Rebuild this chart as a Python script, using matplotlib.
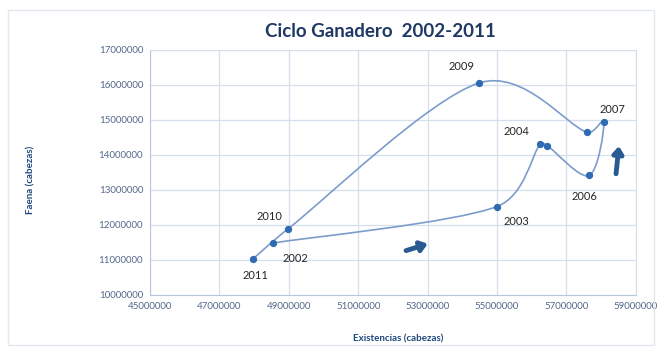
import numpy as np
import matplotlib
matplotlib.use("Agg")
from matplotlib import pyplot as plt
from matplotlib.path import Path
from matplotlib.patches import PathPatch

# ciclo ganadero: existencias (x) vs faena (y), ordered by year
years = [2002, 2003, 2004, 2005, 2006, 2007, 2008, 2009, 2010, 2011]
existencias = [48540000, 54990000, 56240000, 56450000, 57650000,
               58080000, 57600000, 54470000, 48970000, 47960000]
faena = [11480000, 12520000, 14310000, 14260000, 13410000,
         14930000, 14640000, 16050000, 11880000, 11020000]
labeled_years = [2002, 2003, 2004, 2006, 2007, 2009, 2010, 2011]

plt.rcParams['font.family'] = ['Lato', 'DejaVu Sans']

line_color = '#7C9CCB'
marker_color = '#2F6BB3'
text_blue = '#1F497D'
grid_color = '#D6DFEC'


def smooth_path(xs, ys):
    # excel-like smoothed scatter line (catmull-rom bezier segments,
    # control arms clamped so close points don't make loops)
    pts = np.column_stack([xs, ys]).astype(float)
    n = len(pts)
    verts = [pts[0]]
    codes = [Path.MOVETO]
    for i in range(n - 1):
        p0 = pts[i - 1] if i > 0 else pts[i]
        p1 = pts[i]
        p2 = pts[i + 1]
        p3 = pts[i + 2] if i + 2 < n else pts[i + 1]
        seg = np.hypot(*(p2 - p1))
        a1 = (p2 - p0) / 6
        a2 = (p3 - p1) / 6
        lim = 0.4 * seg
        if np.hypot(*a1) > lim:
            a1 = a1 * lim / np.hypot(*a1)
        if np.hypot(*a2) > lim:
            a2 = a2 * lim / np.hypot(*a2)
        verts += [p1 + a1, p2 - a2, p2]
        codes += [Path.CURVE4] * 3
    return Path(verts, codes)


fig = plt.figure(figsize=(6.61, 3.51), dpi=100)
ax = fig.add_axes([0.227, 0.160, 0.735, 0.698])

# outer chart border
fig.patches.append(plt.Rectangle((0.012, 0.017), 0.978, 0.955, transform=fig.transFigure,
                                 fill=False, edgecolor='#E3E8EF', linewidth=1))

ax.add_patch(PathPatch(smooth_path(existencias, faena), facecolor='none',
                       edgecolor=line_color, linewidth=1.2, zorder=3))
ax.scatter(existencias, faena, s=18, color=marker_color, zorder=4)

label_offsets = {2002: (16, -11), 2003: (14, -11), 2004: (-17, 9), 2006: (-3, -15),
                 2007: (6, 9), 2009: (-12, 12), 2010: (-13, 9), 2011: (2, -12)}
for yr, x, y in zip(years, existencias, faena):
    if yr in labeled_years:
        dx, dy = label_offsets[yr]
        ax.annotate(str(yr), (x, y), xytext=(dx, dy), textcoords='offset points',
                    ha='center', va='center', fontsize=8, color='#262626')

# direction arrows
ax.annotate('', xy=(53080000, 11480000), xytext=(52300000, 11240000),
            arrowprops=dict(arrowstyle='-|>,head_width=0.3,head_length=0.4',
                            color='#2A5A92', linewidth=3.5))
ax.annotate('', xy=(58520000, 14330000), xytext=(58420000, 13380000),
            arrowprops=dict(arrowstyle='-|>,head_width=0.3,head_length=0.4',
                            color='#2A5A92', linewidth=3.5))

ax.set_xlim(45000000, 59000000)
ax.set_ylim(10000000, 17000000)
ax.set_xticks(np.arange(45000000, 59000001, 2000000))
ax.set_yticks(np.arange(10000000, 17000001, 1000000))
ax.xaxis.set_major_formatter(matplotlib.ticker.FuncFormatter(lambda v, p: f'{int(v)}'))
ax.yaxis.set_major_formatter(matplotlib.ticker.FuncFormatter(lambda v, p: f'{int(v)}'))
ax.tick_params(length=0, labelsize=7, labelcolor='#55688A', pad=5)
ax.grid(True, color=grid_color, linewidth=0.9)
ax.set_axisbelow(True)
for side, sp in ax.spines.items():
    sp.set_color('#B8C7DD' if side in ('left', 'bottom') else grid_color)

ax.set_xlabel('Existencias (cabezas)', fontsize=7, fontweight='bold', color=text_blue)
ax.xaxis.set_label_coords(0.51, -0.16)
ax.set_ylabel('Faena (cabezas)', fontsize=7, fontweight='bold', color=text_blue)
ax.yaxis.set_label_coords(-0.235, 0.47)
ax.set_title('Ciclo Ganadero  2002-2011', fontsize=13.5, fontweight='bold', color='#1F3864',
             pad=9, x=0.475)

fig.savefig('out.png', dpi=100)
